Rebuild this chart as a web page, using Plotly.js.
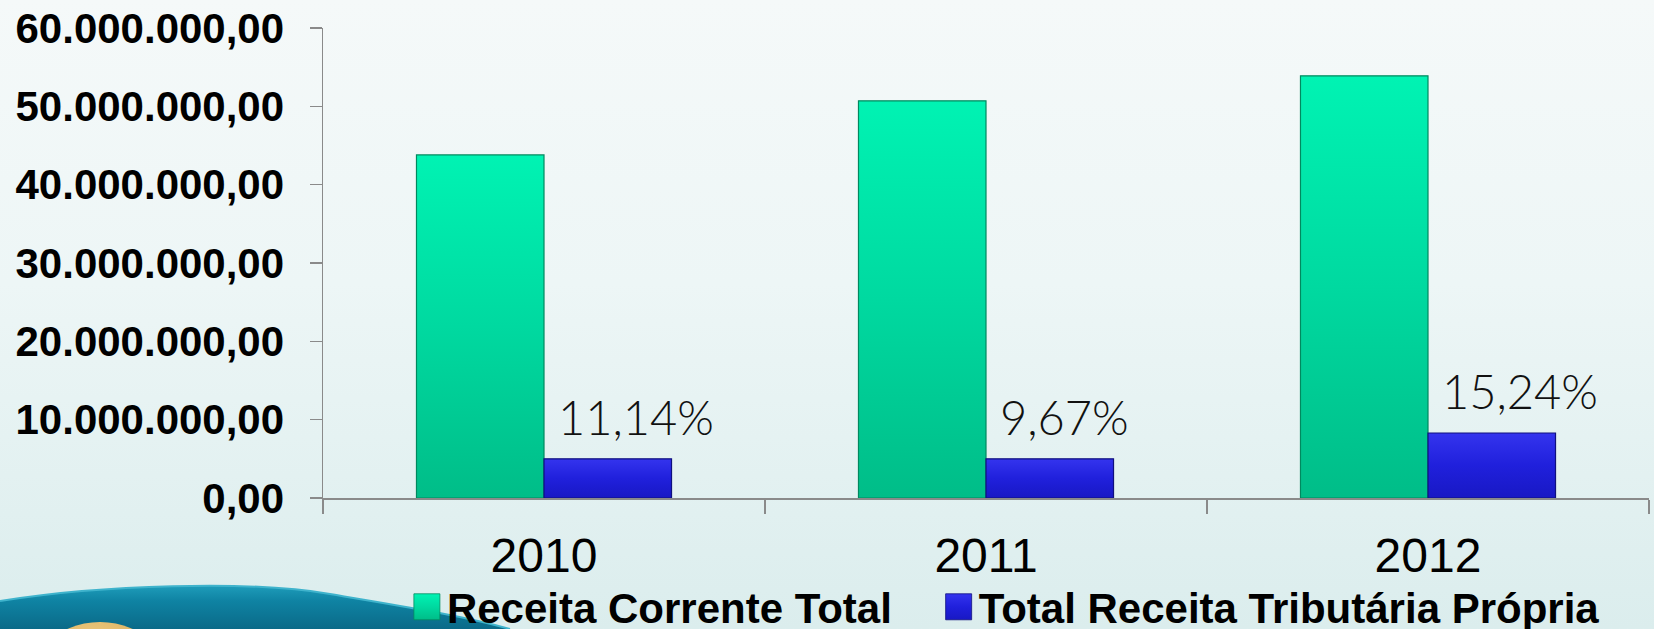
<!DOCTYPE html>
<html>
<head>
<meta charset="utf-8">
<script src="https://cdn.plot.ly/plotly-3.0.1.min.js"></script>
<style>
html,body{margin:0;padding:0;width:1654px;height:629px;overflow:hidden;}
body{background:linear-gradient(180deg,#f5f9f9 0%,#edf6f6 45%,#dbeded 100%);position:relative;}
#deco{position:absolute;left:0;top:0;}
#chart{position:absolute;left:0;top:0;width:1654px;height:629px;}
</style>
</head>
<body>
<svg id="deco" width="1654" height="629" xmlns="http://www.w3.org/2000/svg">
  <defs>
    <linearGradient id="swoosh" x1="0" y1="0" x2="0" y2="1">
      <stop offset="0" stop-color="#1e9cba"/>
      <stop offset="0.35" stop-color="#0f83a3"/>
      <stop offset="1" stop-color="#0a6a88"/>
    </linearGradient>
    <radialGradient id="gold" cx="0.45" cy="0.2" r="0.7">
      <stop offset="0" stop-color="#f0cf86"/>
      <stop offset="1" stop-color="#c9963e"/>
    </radialGradient>
  </defs>
  <path d="M0,601 C100,585 250,580 330,594 C400,606 460,615 510,629 L0,629 Z" fill="url(#swoosh)"/>
  <path d="M0,601 C100,585 250,580 330,594 C400,606 460,615 510,629" fill="none" stroke="#3fb3cc" stroke-width="2"/>
  <circle cx="100" cy="703" r="81" fill="url(#gold)"/>
</svg>
<div id="chart"></div>
<script>
// ---- data ----
const years = ['2010', '2011', '2012'];
const receitaCorrenteTotal = [43800000, 50700000, 53900000];
const receitaTributariaPropria = [5000000, 5000000, 8300000];
const percentLabels = ['11,14%', '9,67%', '15,24%'];
const seriesNames = ['Receita Corrente Total', 'Total Receita Tributária Própria'];
const yTickValues = [0, 10000000, 20000000, 30000000, 40000000, 50000000, 60000000];

const boldFont = {family: 'Liberation Sans, Arial, sans-serif', size: 42, color: '#000', weight: 'bold'};

const traces = [
  {
    type: 'bar', name: seriesNames[0], x: years, y: receitaCorrenteTotal,
    marker: {color: '#00d9a0', line: {color: '#00895f', width: 1.2}},
    legend: 'legend', hoverinfo: 'skip'
  },
  {
    type: 'bar', name: seriesNames[1], x: years, y: receitaTributariaPropria,
    marker: {color: '#1f1fd6', line: {color: '#10107e', width: 1.2}},
    legend: 'legend2', hoverinfo: 'skip'
  }
];

const annotations = percentLabels.map((t, i) => ({
  x: i, y: receitaTributariaPropria[i], xref: 'x', yref: 'y',
  text: t, showarrow: false, xanchor: 'left', yanchor: 'bottom',
  xshift: 12, yshift: 12,
  font: {family: 'Lato, Open Sans, sans-serif', size: 47, color: '#111', weight: 300}
}));

const legendBase = {
  orientation: 'h', xref: 'container', yref: 'container',
  xanchor: 'left', y: 0.035, yanchor: 'middle',
  font: boldFont, bgcolor: 'rgba(0,0,0,0)', borderwidth: 0,
  itemclick: false, itemdoubleclick: false
};

const layout = {
  width: 1654, height: 629,
  margin: {l: 323, r: 5, t: 28, b: 131, pad: 0},
  paper_bgcolor: 'rgba(0,0,0,0)',
  plot_bgcolor: 'rgba(0,0,0,0)',
  separators: ',.',
  barmode: 'group', bargap: 0.423, bargroupgap: 0,
  showlegend: true,
  legend: Object.assign({}, legendBase, {x: 0.246}),
  legend2: Object.assign({}, legendBase, {x: 0.5675}),
  xaxis: {
    type: 'category', showline: true, linecolor: '#8a8a8a', linewidth: 1.5,
    ticks: 'outside', tickson: 'boundaries', ticklen: 14, tickcolor: '#8a8a8a', tickwidth: 1.5,
    tickfont: {family: 'Liberation Sans, Arial, sans-serif', size: 48, color: '#000'},
    ticklabelstandoff: 15, showgrid: false, zeroline: false, fixedrange: true
  },
  yaxis: {
    range: [0, 60000000], tickvals: yTickValues, tickformat: ',.2f',
    showline: true, linecolor: '#8a8a8a', linewidth: 1.5,
    ticks: 'outside', ticklen: 12, tickcolor: '#8a8a8a', tickwidth: 1.5,
    tickfont: boldFont, ticklabelstandoff: 17,
    showgrid: false, zeroline: false, fixedrange: true
  },
  annotations: annotations
};

Plotly.newPlot('chart', traces, layout, {displayModeBar: false, staticPlot: true}).then(gd => {
  const svgNS = 'http://www.w3.org/2000/svg';
  const svg = gd.querySelector('.main-svg');
  const defs = document.createElementNS(svgNS, 'defs');
  defs.innerHTML =
    '<linearGradient id="gGreen" x1="0" y1="0" x2="0" y2="1">' +
    '<stop offset="0" stop-color="#00f3b3"/><stop offset="0.5" stop-color="#00d9a0"/><stop offset="1" stop-color="#00bd88"/></linearGradient>' +
    '<linearGradient id="gBlue" x1="0" y1="0" x2="0" y2="1">' +
    '<stop offset="0" stop-color="#3434ee"/><stop offset="0.5" stop-color="#2020dc"/><stop offset="1" stop-color="#1818c4"/></linearGradient>';
  svg.insertBefore(defs, svg.firstChild);
  const grads = ['url(#gGreen)', 'url(#gBlue)'];
  gd.querySelectorAll('.barlayer .trace').forEach((tr, i) => {
    tr.querySelectorAll('.point path').forEach(p => { p.style.fill = grads[i]; });
  });
  const legendIds = ['.legend', '.legend2'];
  legendIds.forEach((sel, i) => {
    gd.querySelectorAll('g' + sel + ' .legendpoints path').forEach(p => {
      p.setAttribute('d', 'M13,13H-13V-13H13Z');
      p.style.fill = grads[i];
      p.style.strokeWidth = '0.8px';
    });
  });
});
</script>
</body>
</html>
